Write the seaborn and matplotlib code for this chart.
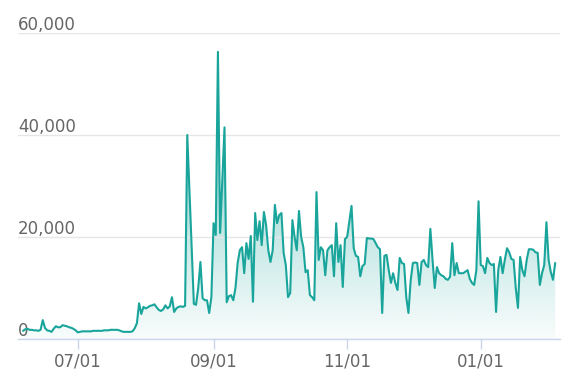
import numpy as np
import pandas as pd
import matplotlib
matplotlib.use('Agg')
import matplotlib.pyplot as plt
import matplotlib.dates as mdates
import matplotlib.transforms as mtransforms
from matplotlib.colors import to_rgb
from matplotlib.ticker import FuncFormatter
import seaborn as sns

# daily values, starting 2020-06-06
start_date = '2020-06-06'
daily_values = [
    1600, 1900, 2000, 1800, 1800, 1700, 1700, 1600, 1800, 3700,
    2200, 1700, 1600, 1400, 2000, 2500, 2300, 2300, 2700, 2600,
    2500, 2300, 2200, 2000, 1700, 1300, 1400, 1500, 1500, 1500,
    1500, 1500, 1600, 1600, 1600, 1600, 1600, 1700, 1700, 1700,
    1800, 1800, 1800, 1800, 1700, 1500, 1400, 1400, 1400, 1400,
    1500, 2100, 3100, 7000, 4900, 6300, 6000, 6200, 6500, 6600,
    6800, 6200, 5700, 5500, 5800, 6600, 6000, 6400, 8200, 5300,
    6000, 6300, 6400, 6300, 6500, 40000, 29200, 18000, 6900, 6700,
    10000, 15100, 8000, 7600, 7600, 5100, 8200, 22700, 20400, 56300,
    20800, 31000, 41500, 7200, 8400, 8600, 7600, 10000, 14900, 17400,
    18000, 12900, 18800, 15700, 20200, 7300, 24700, 19400, 23100, 18400,
    24900, 22300, 17400, 15100, 17400, 26300, 22700, 24300, 24700, 16900,
    14500, 8200, 9000, 23300, 20000, 17400, 25100, 20000, 18000, 13100,
    13500, 8600, 8200, 7600, 28800, 15500, 18000, 17400, 12500, 17400,
    18000, 18400, 12300, 22700, 15100, 18400, 10200, 19600, 20000, 23000,
    26100, 17800, 16300, 16100, 12300, 14300, 14700, 19800, 19700, 19700,
    19600, 18800, 18000, 17600, 5100, 16300, 16500, 13500, 11000, 12900,
    11000, 9600, 15900, 14900, 14700, 8200, 5100, 11400, 14900, 15000,
    14900, 10600, 15100, 15500, 14500, 14100, 21600, 15500, 10000, 14100,
    12900, 12500, 12300, 11800, 11600, 12200, 18800, 12500, 14900, 12900,
    12900, 12900, 13200, 13500, 11800, 11000, 10600, 13500, 27000, 14500,
    14300, 12900, 15900, 14900, 14500, 14700, 5300, 13500, 16100, 12900,
    15500, 17800, 17000, 15700, 15500, 10000, 6100, 16100, 13500, 12300,
    15500, 17600, 17600, 17500, 17000, 16900, 10600, 12900, 14500, 22900,
    15500, 13100, 11600, 14900,
]
y_ticks = [0, 20000, 40000, 60000]

df = pd.DataFrame({'date': pd.date_range(start_date, periods=len(daily_values), freq='D'),
                   'value': daily_values})

sns.set_theme(style='white')
plt.rcParams['font.family'] = ['DejaVu Sans']

line_color = '#19a59b'
text_color = '#666666'
axis_color = '#ccd6eb'

fig = plt.figure(figsize=(5.82, 3.89), dpi=100)
ax = fig.add_axes([18 / 582, 1 - 339 / 389, (560 - 18) / 582, (339 - 33) / 389])

sns.lineplot(data=df, x='date', y='value', color=line_color, linewidth=1.5, ax=ax, zorder=3)

# gradient fill under the line
x_num = mdates.date2num(df['date'])
fill = ax.fill_between(x_num, df['value'], 0, facecolor='none', edgecolor='none')
ymax = df['value'].max()
grad = np.zeros((256, 1, 4))
grad[:, 0, :3] = to_rgb(line_color)
grad[:, 0, 3] = np.linspace(0.65, 0.03, 256)
im = ax.imshow(grad, extent=[x_num[0], x_num[-1], 0, ymax], aspect='auto',
               origin='upper', zorder=0.2, interpolation='bilinear')
im.set_clip_path(fill.get_paths()[0], transform=ax.transData)

ax.set_xlim(x_num[0] - 2.3, x_num[0] + 245.2)
ax.set_ylim(0, 60000)

ax.set_axisbelow(True)
ax.yaxis.grid(True, color='#e6e6e6', linewidth=1)
ax.xaxis.grid(False)
for side in ['left', 'top', 'right']:
    ax.spines[side].set_visible(False)
ax.spines['bottom'].set_color(axis_color)
ax.spines['bottom'].set_linewidth(1)

ax.xaxis.set_major_locator(mdates.MonthLocator(bymonth=range(1, 13, 2)))
ax.xaxis.set_major_formatter(mdates.DateFormatter('%m/%d'))
ax.tick_params(axis='x', direction='out', length=7, width=1, color=axis_color,
               labelcolor=text_color, labelsize=12, pad=3, bottom=True)

ax.set_yticks(y_ticks)
ax.yaxis.set_major_formatter(FuncFormatter(lambda v, p: f'{v:,.0f}'))
ax.tick_params(axis='y', length=0, pad=0, labelsize=12, labelcolor=text_color)
offset = mtransforms.ScaledTranslation(0, 2 / 72, fig.dpi_scale_trans)
for lab in ax.get_yticklabels():
    lab.set_horizontalalignment('left')
    lab.set_verticalalignment('baseline')
    lab.set_transform(lab.get_transform() + offset)

ax.set_xlabel('')
ax.set_ylabel('')

fig.savefig('out.png', dpi=100)
